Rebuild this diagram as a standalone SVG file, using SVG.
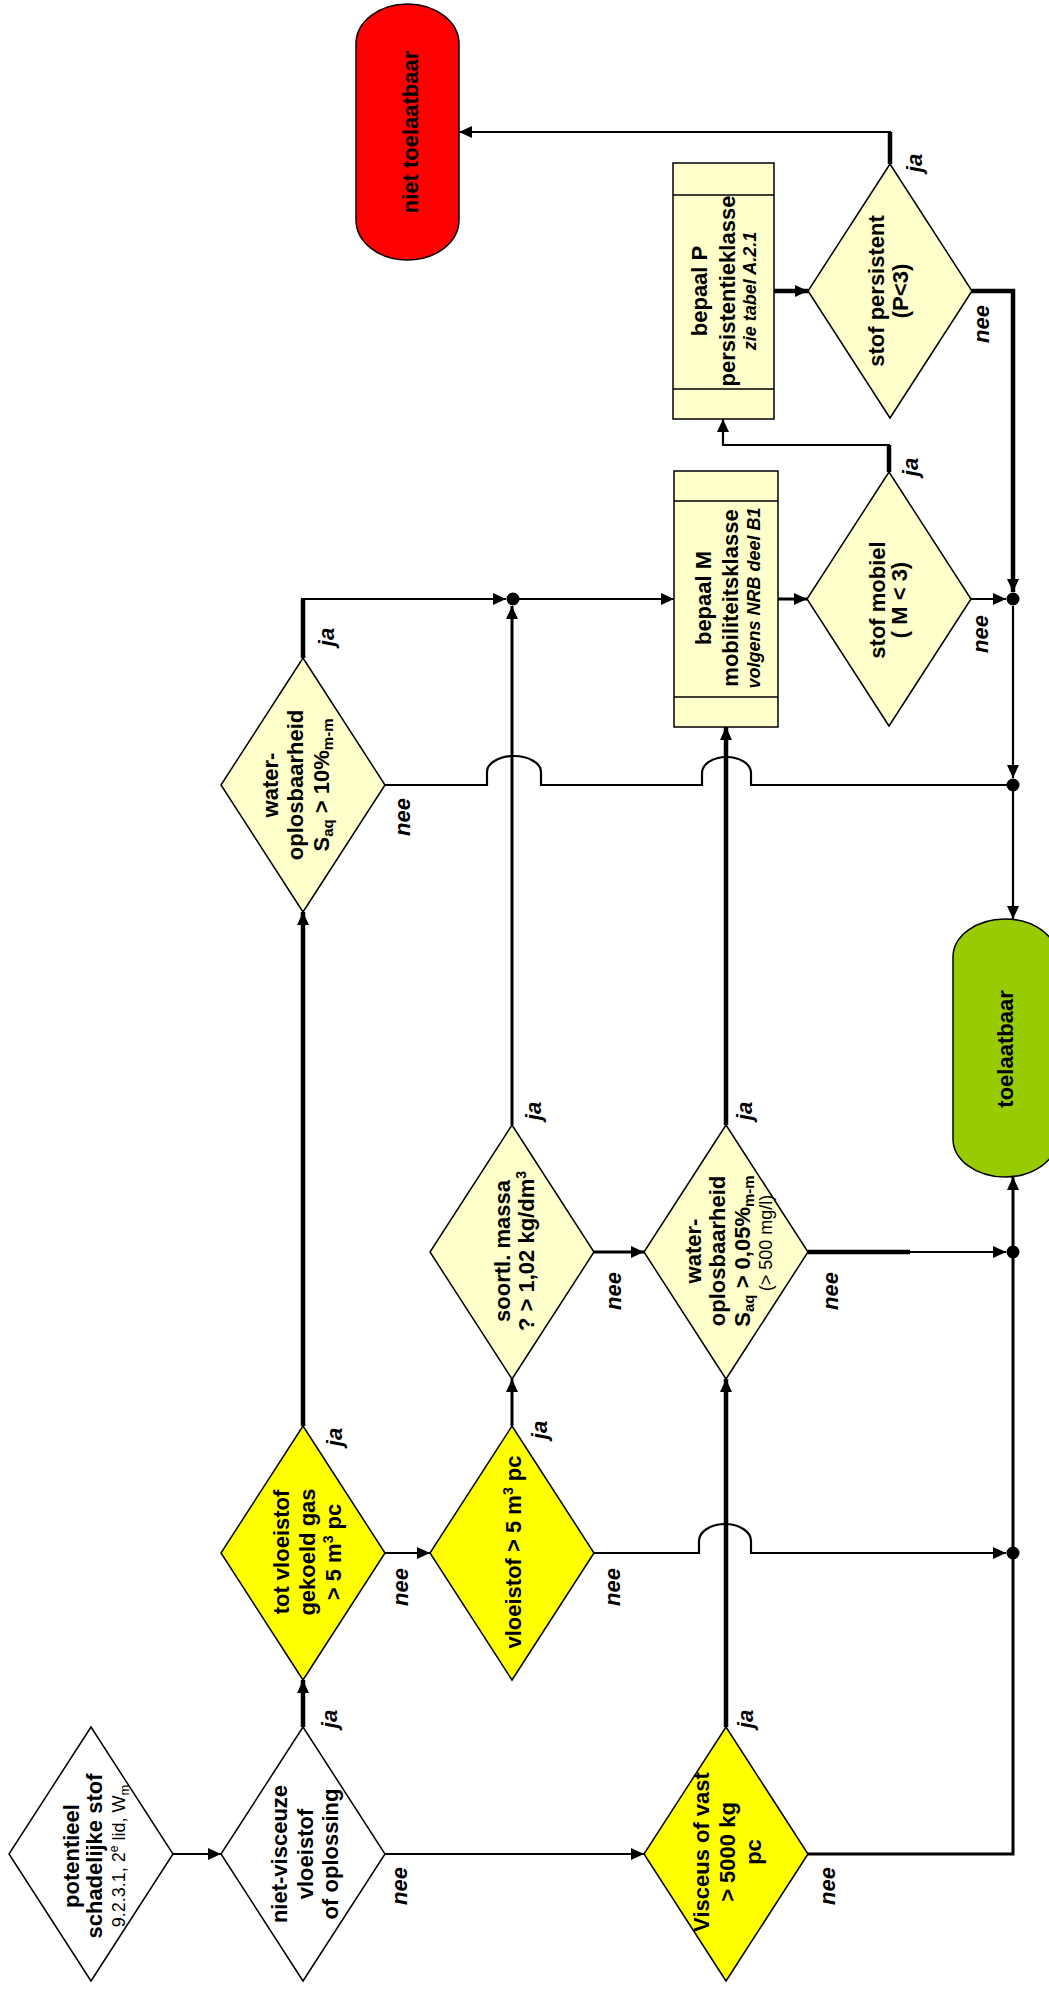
<svg xmlns="http://www.w3.org/2000/svg" width="1049" height="1990" viewBox="0 0 1049 1990">
<defs>
<style>
.n{stroke:#000;stroke-width:1.5}
.w{fill:#fff}.ly{fill:#FFFFCC}.y{fill:#FFFF00}.g{fill:#99CC00}.r{fill:#FF0000}
.t{font-family:"Liberation Sans",Arial,sans-serif;font-weight:bold;font-size:22px;text-anchor:middle;fill:#000}
.s{font-size:18px;font-weight:normal}
.it{font-style:italic;font-size:18px}
.lbl{font-family:"Liberation Sans",Arial,sans-serif;font-weight:bold;font-style:italic;font-size:22px;text-anchor:middle;fill:#000}
.c{fill:none;stroke:#000;stroke-linejoin:miter}
.thin{stroke-width:2.2}.mid{stroke-width:3}.thick{stroke-width:4.5}
.a{marker-end:url(#arr)}
</style>
<marker id="arr" markerUnits="userSpaceOnUse" markerWidth="13" markerHeight="12" refX="13" refY="6" orient="auto">
<path d="M0,0 L13,6 L0,12 z" fill="#000"/>
</marker>
</defs>
<rect width="1049" height="1990" fill="#fff"/>

<g id="connectors">
<path class="c thin a" d="M173,1854 H221"/>
<path class="c thick a" d="M303,1727 V1680"/>
<path class="c thin a" d="M385,1854 H644"/>
<path class="c thick a" d="M303,1426 V912"/>
<path class="c thin a" d="M385,1553 H430"/>
<path class="c mid a" d="M512,1426 V1379"/>
<path class="c thin a" d="M594,1553 H699 V1541 A26,17 0 0 1 751,1541 V1553 H1006"/>
<path class="c mid a" d="M512,1125 V606"/>
<path class="c mid a" d="M594,1252 H644"/>
<path class="c thick a" d="M726,1125 V727"/>
<path class="c thick a" d="M726,1727 V1379"/>
<path class="c mid a" d="M808,1854 H1013 V1177"/>
<path class="c thick" d="M808,1252 H910"/>
<path class="c thin a" d="M908,1252 H1006"/>
<path class="c thick" d="M303,658 V599"/>
<path class="c thin a" d="M301,599 H506"/>
<path class="c thin a" d="M519,599 H674"/>
<path class="c thin" d="M385,785 H487 V772 A27,16 0 0 1 541,772 V785 H702 V773 A24.5,16 0 0 1 751,773 V785 H1013"/>
<path class="c mid a" d="M778,599 H807"/>
<path class="c thin a" d="M971,599 H1006"/>
<path class="c thick" d="M889,472 V445"/>
<path class="c thin a" d="M890,445 H723 V419"/>
<path class="c thick a" d="M774,291 H808"/>
<path class="c thick" d="M890,164 V132"/>
<path class="c thin a" d="M891,132 H459"/>
<path class="c thick a" d="M972,291 H1013 V592"/>
<path class="c thin a" d="M1013,606 V778"/>
<path class="c thin a" d="M1013,791 V919"/>
<circle cx="513" cy="599" r="6.5" fill="#000"/>
<circle cx="1013" cy="599" r="6.5" fill="#000"/>
<circle cx="1013" cy="785" r="6.5" fill="#000"/>
<circle cx="1013" cy="1252" r="6.5" fill="#000"/>
<circle cx="1013" cy="1553" r="6.5" fill="#000"/>
</g>

<g id="potentieel">
<polygon class="n w" points="91,1727 173,1854 91,1981 9,1854"/>
<g transform="translate(91,1856) rotate(-90)">
<text class="t" y="-12">potentieel</text>
<text class="t" y="11">schadelijke stof</text>
<text class="t s" y="34">9.2.3.1, 2<tspan dy="-7" font-size="12">e</tspan><tspan dy="7"> lid, W</tspan><tspan dy="4" font-size="13">m</tspan></text>
</g>
</g>

<g id="niet-visceuze">
<polygon class="n w" points="303,1727 385,1854 303,1981 221,1854"/>
<g transform="translate(303,1854) rotate(-90)">
<text class="t" y="-16">niet-visceuze</text>
<text class="t" y="10">vloeistof</text>
<text class="t" y="35">of oplossing</text>
</g>
</g>

<g id="visceus">
<polygon class="n y" points="726,1727 808,1854 726,1981 644,1854"/>
<g transform="translate(726,1852) rotate(-90)">
<text class="t" y="-17">Visceus of vast</text>
<text class="t" y="9">&gt; 5000 kg</text>
<text class="t" y="35">pc</text>
</g>
</g>

<g id="tot-vloeistof">
<polygon class="n y" points="303,1426 385,1553 303,1680 221,1553"/>
<g transform="translate(303,1552) rotate(-90)">
<text class="t" y="-14">tot vloeistof</text>
<text class="t" y="12">gekoeld gas</text>
<text class="t" y="38">&gt; 5 m<tspan dy="-8" font-size="14">3</tspan><tspan dy="8"> pc</tspan></text>
</g>
</g>

<g id="vloeistof">
<polygon class="n y" points="512,1426 594,1553 512,1680 430,1553"/>
<g transform="translate(512,1552) rotate(-90)">
<text class="t" y="9">vloeistof &gt; 5 m<tspan dy="-8" font-size="14">3</tspan><tspan dy="8"> pc</tspan></text>
</g>
</g>

<g id="soortl-massa">
<polygon class="n ly" points="512,1125 594,1252 512,1379 430,1252"/>
<g transform="translate(512,1251) rotate(-90)">
<text class="t" y="-2">soortl. massa</text>
<text class="t" y="22">? &gt; 1,02 kg/dm<tspan dy="-8" font-size="14">3</tspan></text>
</g>
</g>

<g id="wateroplosbaarheid-2">
<polygon class="n ly" points="726,1125 808,1252 726,1379 644,1252"/>
<g transform="translate(726,1251) rotate(-90)">
<text class="t" y="-25">water-</text>
<text class="t" y="-1">oplosbaarheid</text>
<text class="t" y="24">S<tspan dy="4" font-size="15">aq</tspan><tspan dy="-4"> &gt; 0,05%</tspan><tspan dy="4" font-size="15">m-m</tspan></text>
<text class="t s" x="8" y="46">(&gt; 500 mg/l)</text>
</g>
</g>

<g id="wateroplosbaarheid-1">
<polygon class="n ly" points="303,658 385,785 303,912 221,785"/>
<g transform="translate(303,785) rotate(-90)">
<text class="t" y="-25">water-</text>
<text class="t" y="0">oplosbaarheid</text>
<text class="t" y="26">S<tspan dy="4" font-size="15">aq</tspan><tspan dy="-4"> &gt; 10%</tspan><tspan dy="4" font-size="15">m-m</tspan></text>
</g>
</g>

<g id="bepaal-M">
<rect class="n ly" x="674" y="471" width="104" height="256"/>
<path class="n" d="M674,501 H778 M674,697 H778" fill="none"/>
<g transform="translate(726,598) rotate(-90)">
<text class="t" y="-15">bepaal M</text>
<text class="t" y="12">mobiliteitsklasse</text>
<text class="t it" y="34">volgens NRB deel B1</text>
</g>
</g>

<g id="stof-mobiel">
<polygon class="n ly" points="889,472 971,599 889,726 807,599"/>
<g transform="translate(889,600) rotate(-90)">
<text class="t" y="-4">stof mobiel</text>
<text class="t" y="18">( M &lt; 3)</text>
</g>
</g>

<g id="bepaal-P">
<rect class="n ly" x="673" y="163" width="101" height="256"/>
<path class="n" d="M673,195 H774 M673,389 H774" fill="none"/>
<g transform="translate(724,291) rotate(-90)">
<text class="t" y="-17">bepaal P</text>
<text class="t" y="11">persistentieklasse</text>
<text class="t it" y="32">zie tabel A.2.1</text>
</g>
</g>

<g id="stof-persistent">
<polygon class="n ly" points="890,164 972,291 890,418 808,291"/>
<g transform="translate(890,291) rotate(-90)">
<text class="t" y="-6">stof persistent</text>
<text class="t" y="18">(P&lt;3)</text>
</g>
</g>

<g id="niet-toelaatbaar">
<rect class="n r" x="356" y="4" width="103" height="256" rx="51.5" ry="40"/>
<text class="t" transform="translate(408,132) rotate(-90)" y="10">niet toelaatbaar</text>
</g>

<g id="toelaatbaar">
<rect class="n g" x="953" y="919" width="104" height="258" rx="52" ry="38"/>
<text class="t" transform="translate(1005,1049) rotate(-90)" y="8">toelaatbaar</text>
</g>

<g id="labels">
<text class="lbl" transform="translate(922,163) rotate(-90)">ja</text>
<text class="lbl" transform="translate(989,324) rotate(-90)">nee</text>
<text class="lbl" transform="translate(918,467) rotate(-90)">ja</text>
<text class="lbl" transform="translate(988,634) rotate(-90)">nee</text>
<text class="lbl" transform="translate(334,637) rotate(-90)">ja</text>
<text class="lbl" transform="translate(410,817) rotate(-90)">nee</text>
<text class="lbl" transform="translate(541,1111) rotate(-90)">ja</text>
<text class="lbl" transform="translate(621,1291) rotate(-90)">nee</text>
<text class="lbl" transform="translate(752,1111) rotate(-90)">ja</text>
<text class="lbl" transform="translate(838,1291) rotate(-90)">nee</text>
<text class="lbl" transform="translate(342,1437) rotate(-90)">ja</text>
<text class="lbl" transform="translate(408,1587) rotate(-90)">nee</text>
<text class="lbl" transform="translate(547,1430) rotate(-90)">ja</text>
<text class="lbl" transform="translate(620,1587) rotate(-90)">nee</text>
<text class="lbl" transform="translate(337,1719) rotate(-90)">ja</text>
<text class="lbl" transform="translate(407,1886) rotate(-90)">nee</text>
<text class="lbl" transform="translate(753,1719) rotate(-90)">ja</text>
<text class="lbl" transform="translate(835,1886) rotate(-90)">nee</text>
</g>
</svg>
